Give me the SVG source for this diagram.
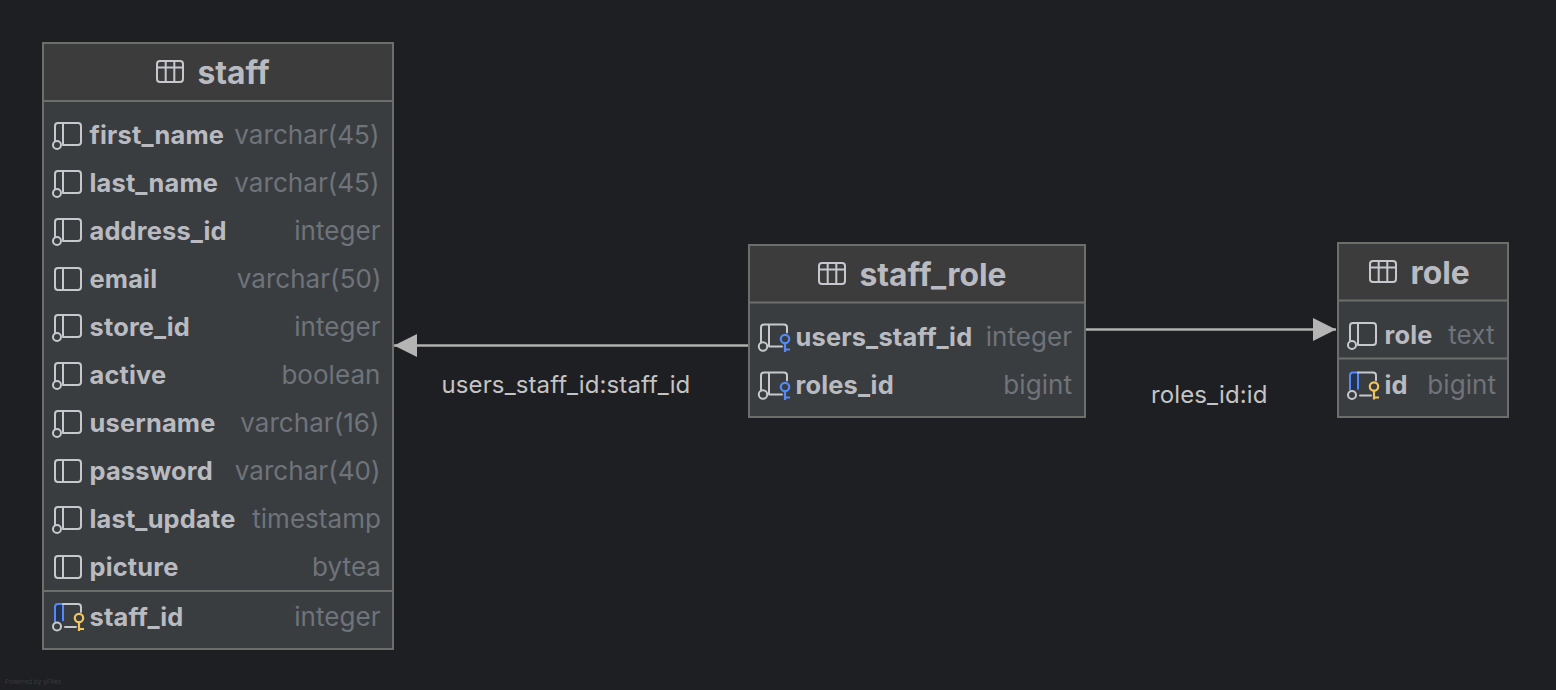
<svg xmlns="http://www.w3.org/2000/svg" width="1556" height="690" viewBox="0 0 1556 690">
<style>
text{font-family:Inter,"Noto Sans",sans-serif}
.box{fill:#3a3d40;stroke:#6c6e6c;stroke-width:2}
.head{fill:#3d3c3c}
.sep{stroke:#6c6e6c;stroke-width:2;fill:none}
.title{font-size:31.8px;font-weight:700;fill:#b9bbc1}
.name{font-size:25.4px;font-weight:700;fill:#b9bbc1;letter-spacing:.18px}
.type{font-size:26px;fill:#6f737a;text-anchor:end;letter-spacing:.05px}
.elabel{font-size:24px;fill:#c4c4c4;letter-spacing:.12px}
.edge{stroke:#b0b0b0;stroke-width:2.4;fill:none}
.ic{fill:none;stroke:#c6c8ce;stroke-width:2;stroke-linecap:round;stroke-linejoin:round}
.ti{fill:none;stroke:#c6c8ce;stroke-width:2;stroke-linejoin:round}
</style>
<defs>
<marker id="arrow" markerUnits="userSpaceOnUse" markerWidth="25" markerHeight="25" refX="23" refY="12" orient="auto"><path d="M0 .5L23 12L0 23.500Z" fill="#b4b4b4"/></marker>
<symbol id="tbl" overflow="visible"><rect x="1" y="1" width="26" height="21" rx="3" class="ti"/><path d="M1 7.5H27M9.7 1V22M18.3 1V22" class="ti"/></symbol>
<symbol id="col" overflow="visible"><rect x="1" y="1" width="26" height="22" rx="3" class="ic"/><path d="M9 1V23" class="ic"/></symbol>
<symbol id="colfk" overflow="visible"><path d="M1 19V4Q1 1 4 1H24Q27 1 27 4V20Q27 23 24 23H9M9 1V23" class="ic"/><circle cx="3" cy="23" r="4" fill="none" stroke="#c6c8ce" stroke-width="2"/></symbol>
<symbol id="pk" overflow="visible"><path d="M1 19V4Q1 1 4 1H9V18" fill="#25324d" stroke="#548af7" stroke-width="2"/><path d="M9 1H24Q27 1 27 4V9M22 24H11" class="ic"/><circle cx="3" cy="23.500" r="4" fill="#3a3d40" stroke="#c6c8ce" stroke-width="2"/><circle cx="25" cy="15" r="4.200" fill="none" stroke="#f2c55c" stroke-width="2.200"/><path d="M25 19.500V28M25 26H30" fill="none" stroke="#f2c55c" stroke-width="2.200"/></symbol>
<symbol id="fk" overflow="visible"><path d="M1 19V4Q1 1 4 1H24Q27 1 27 4V9M9 1V23M22 23H9" class="ic"/><circle cx="3" cy="23" r="4.200" fill="none" stroke="#c6c8ce" stroke-width="2"/><circle cx="25" cy="15.500" r="4.200" fill="none" stroke="#548af7" stroke-width="2.200"/><path d="M25 20V28.500M25 26H30" fill="none" stroke="#548af7" stroke-width="2.200"/></symbol>
</defs>
<rect width="1556" height="690" fill="#1e1f22"/>
<g id="connectors">
<path class="edge" d="M748 345.500H394" marker-end="url(#arrow)"/>
<path class="edge" d="M1085 329.500H1336" marker-end="url(#arrow)"/>
<text class="elabel" x="441.500" y="393">users_staff_id:staff_id</text>
<text class="elabel" x="1151" y="403">roles_id:id</text>
</g>
<g id="staff">
<rect class="box" x="43" y="43" width="350" height="606"/>
<rect class="head" x="44" y="44" width="348" height="57"/>
<path class="sep" d="M44 101H392M44 591H392"/>
<use href="#tbl" x="156" y="60"/>
<text class="title" x="197.500" y="84">staff</text>
<use href="#colfk" x="54" y="122"/><text class="name" x="89.500" y="144">first_name</text><text class="type" x="379.500" y="144">varchar(45)</text>
<use href="#colfk" x="54" y="170"/><text class="name" x="89.500" y="192">last_name</text><text class="type" x="379.500" y="192">varchar(45)</text>
<use href="#colfk" x="54" y="218"/><text class="name" x="89.500" y="240">address_id</text><text class="type" x="380.500" y="240">integer</text>
<use href="#col" x="54" y="267"/><text class="name" x="89.500" y="288">email</text><text class="type" x="381.500" y="288">varchar(50)</text>
<use href="#colfk" x="54" y="314"/><text class="name" x="89.500" y="336">store_id</text><text class="type" x="380.500" y="336">integer</text>
<use href="#colfk" x="54" y="362"/><text class="name" x="89.500" y="384">active</text><text class="type" x="380.500" y="384">boolean</text>
<use href="#colfk" x="54" y="410"/><text class="name" x="89.500" y="432">username</text><text class="type" x="379.500" y="432">varchar(16)</text>
<use href="#col" x="54" y="459"/><text class="name" x="89.500" y="480">password</text><text class="type" x="380.500" y="480">varchar(40)</text>
<use href="#colfk" x="54" y="506"/><text class="name" x="89.500" y="528">last_update</text><text class="type" x="381" y="528">timestamp</text>
<use href="#col" x="54" y="555"/><text class="name" x="89.500" y="576">picture</text><text class="type" x="381" y="576">bytea</text>
<use href="#pk" x="54" y="603"/><text class="name" x="89.500" y="626">staff_id</text><text class="type" x="380.500" y="626">integer</text>
</g>
<g id="staff_role">
<rect class="box" x="749" y="245" width="336" height="172"/>
<rect class="head" x="750" y="246" width="334" height="56"/>
<path class="sep" d="M750 302.500H1084"/>
<use href="#tbl" x="818" y="262"/>
<text class="title" x="859.500" y="286">staff_role</text>
<use href="#fk" x="760" y="323.500"/><text class="name" x="795.500" y="346">users_staff_id</text><text class="type" x="1072" y="346">integer</text>
<use href="#fk" x="760" y="371.500"/><text class="name" x="795.500" y="394">roles_id</text><text class="type" x="1072" y="394">bigint</text>
</g>
<g id="role">
<rect class="box" x="1338" y="243" width="170" height="174"/>
<rect class="head" x="1339" y="244" width="168" height="56"/>
<path class="sep" d="M1339 300.500H1507M1339 358.500H1507"/>
<use href="#tbl" x="1369" y="260"/>
<text class="title" x="1410.500" y="284">role</text>
<use href="#colfk" x="1349" y="322"/><text class="name" x="1384.500" y="344">role</text><text class="type" x="1494.500" y="344">text</text>
<use href="#pk" x="1349" y="371.500"/><text class="name" x="1384.500" y="394">id</text><text class="type" x="1496" y="394">bigint</text>
</g>
<text x="5" y="684" font-size="6.500" fill="#3a3b3e">Powered by yFiles</text>
</svg>
